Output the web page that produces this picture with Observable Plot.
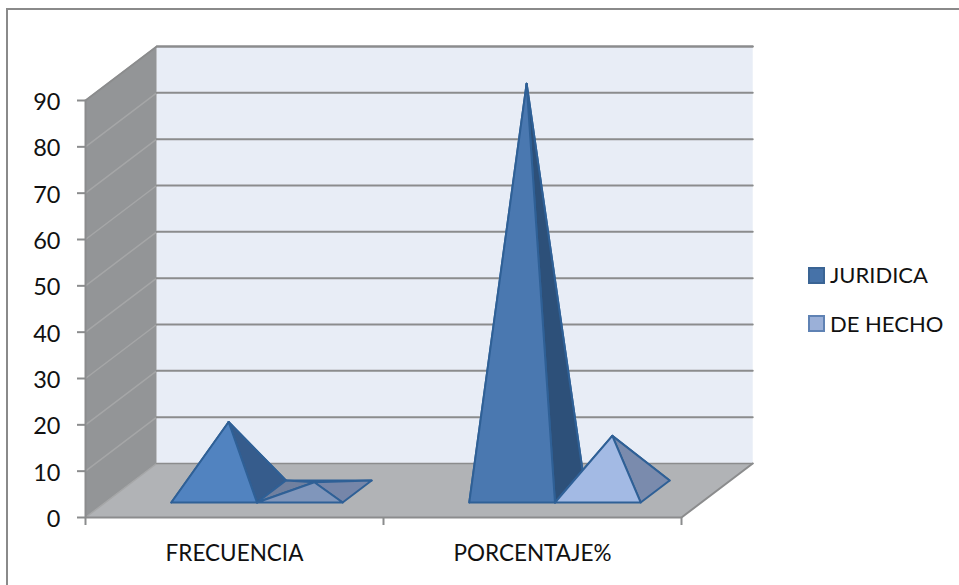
<!DOCTYPE html>
<html>
<head>
<meta charset="utf-8">
<script src="https://cdn.jsdelivr.net/npm/d3@7"></script>
<script src="https://cdn.jsdelivr.net/npm/@observablehq/plot@0.6"></script>
<style>
html,body{margin:0;padding:0;background:#fff;overflow:hidden}
#wrap{position:relative;width:959px;height:585px;font-family:Lato,sans-serif}
#frame{position:absolute;left:6px;top:8px;right:-3px;bottom:-3px;border:2px solid #8a8a8a;box-sizing:border-box}
#chart{position:absolute;left:0;top:0}
.lg{position:absolute;left:808px;display:flex;align-items:center;font-size:22px;color:#111;line-height:18px}
.lg i{display:block;width:13px;height:13px;border-width:2px;border-style:solid;margin-right:5px}
</style>
</head>
<body>
<div id="wrap"><div id="frame"></div><div id="chart"></div></div>
<script>
const categories = ["FRECUENCIA", "PORCENTAJE%"];
const seriesNames = ["JURIDICA", "DE HECHO"];
const juridica = [15, 88];
const deHecho = [2, 12];
const yTicks = [0, 10, 20, 30, 40, 50, 60, 70, 80, 90];
const seriesValues = [juridica, deHecho];

const yMax = 90;
// oblique projection: one unit of depth in category and value units
const depthX = 0.239, depthY = 11.66;
const barFront = 0.278, barBack = 0.685, barGap = 0.2215, barWidth = 0.2875;
const P = (c, v, d) => ({x: c + d * depthX, y: v + d * depthY});

const faceFill = {
  front: [["#5183c0", "#4a78b0"], ["#8096bb", "#a3bae4"]],
  side: [["#365c8c", "#2d5079"], ["#7686a9", "#7a8bad"]],
  hidden: [["#365c8c", "#2d5079"], ["#70809f", "#7a8bad"]]
};

const poly = (pts, fill, stroke, strokeWidth) =>
  Plot.line([...pts, pts[0]], {x: "x", y: "y", fill, stroke: stroke ?? "none", strokeWidth: strokeWidth ?? 1, curve: "linear"});

const marks = [
  poly([P(0,0,0), P(0,yMax,0), P(0,yMax,1), P(0,0,1)], "#939597"),
  poly([P(0,0,1), P(0,yMax,1), P(2,yMax,1), P(2,0,1)], "#e8edf6"),
  poly([P(0,0,0), P(2,0,0), P(2,0,1), P(0,0,1)], "#b1b3b6")
];
for (const t of yTicks) {
  marks.push(Plot.line([P(0,t,0), P(0,t,1)], {x:"x", y:"y", stroke:"#a5a6a7", strokeWidth: 1.5}));
  marks.push(Plot.line([P(0,t,1), P(2,t,1)], {x:"x", y:"y", stroke:"#8b8c8d", strokeWidth: t === 0 ? 1.5 : 2}));
}
marks.push(Plot.line([P(0,yMax,0), P(0,yMax,1), P(2,yMax,1)], {x:"x", y:"y", stroke:"#8b8c8d", strokeWidth:2}));
marks.push(Plot.line([P(0,yMax,0), P(0,0,0), P(2,0,0), P(2,0,1)], {x:"x", y:"y", stroke:"#8b8c8d", strokeWidth:2}));

const edge = "#2f6096";
categories.forEach((_, c) => {
  seriesValues.forEach((vals, s) => {
    const x0 = c + barGap + s * barWidth, x1 = x0 + barWidth;
    const mid = (barFront + barBack) / 2;
    const apex = P(x0 + barWidth / 2, vals[c], mid);
    const fl = P(x0, 0, barFront), fr = P(x1, 0, barFront), br = P(x1, 0, barBack), bl = P(x0, 0, barBack);
    marks.push(poly([bl, br, apex], faceFill.hidden[s][c], edge, 2));
    marks.push(poly([fl, bl, apex], faceFill.hidden[s][c], edge, 2));
    marks.push(poly([fr, br, apex], faceFill.side[s][c], edge, 2));
    marks.push(poly([fl, fr, apex], faceFill.front[s][c], edge, 2));
  });
});

marks.push(Plot.axisY({ticks: yTicks, tickSize: 8, stroke: "#8b8c8d", strokeWidth: 2, tickFormat: () => "", label: null}));
marks.push(Plot.axisY({ticks: yTicks, tickSize: 0, tickPadding: 25, dy: 2, fill: "#111", fontSize: 23.5, label: null, tickFormat: d => d}));
marks.push(Plot.axisX({ticks: [0, 1, 2], tickSize: 8, stroke: "#8b8c8d", strokeWidth: 2, tickFormat: () => "", label: null}));
marks.push(Plot.axisX({ticks: [0.5, 1.5], tickSize: 0, tickPadding: 28, fill: "#111", fontSize: 22.5, label: null, tickFormat: d => categories[Math.floor(d)]}));

const chart = Plot.plot({
  width: 959, height: 585,
  marginLeft: 85, marginRight: 278, marginTop: 100, marginBottom: 68,
  x: {domain: [0, 2]},
  y: {domain: [0, yMax]},
  style: {background: "transparent", fontFamily: "Lato, sans-serif", overflow: "visible"},
  marks
});
document.getElementById("chart").append(chart);

const swatches = [["#4672a8", "#3a6494"], ["#9bb0d8", "#5f82b4"]];
seriesNames.forEach((name, i) => {
  const d = document.createElement("div");
  d.className = "lg";
  d.style.top = (266 + i * 48.5) + "px";
  const sw = document.createElement("i");
  sw.style.background = swatches[i][0];
  sw.style.borderColor = swatches[i][1];
  d.append(sw, document.createTextNode(name));
  document.getElementById("wrap").append(d);
});
</script>
</body>
</html>
